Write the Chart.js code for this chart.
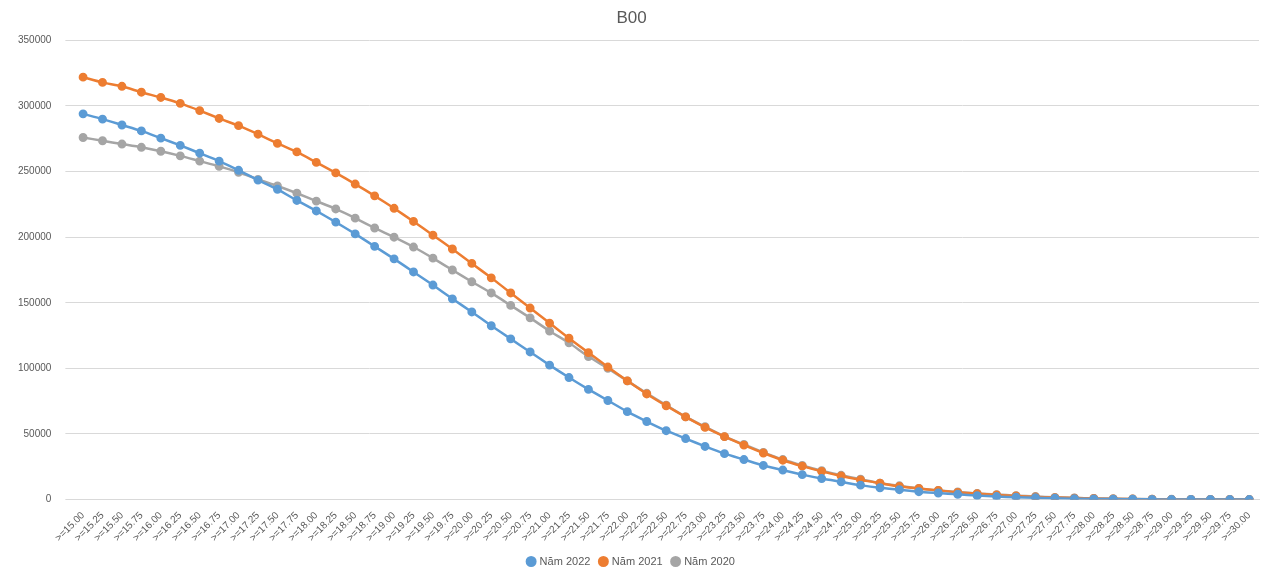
<!DOCTYPE html>
<html>
<head>
<meta charset="utf-8">
<script src="https://cdn.jsdelivr.net/npm/chart.js@4/dist/chart.umd.min.js"></script>
<style>
  html, body { margin: 0; padding: 0; background: #fff; }
  #wrap { width: 1273px; height: 583px; }
</style>
</head>
<body>
<div id="wrap"><canvas id="chart"></canvas></div>
<script>
// Score thresholds 15.00 .. 30.00
const thresholds = [];
for (let i = 0; i <= 60; i++) thresholds.push(">=" + (15 + i * 0.25).toFixed(2));

const nam2022 = [294000, 290000, 285500, 281000, 275500, 270000, 264000, 258000, 251000, 243500,
  236500, 228000, 220000, 211500, 202500, 193000, 183500, 173500, 163500, 153000,
  143000, 132500, 122500, 112500, 102500, 93000, 84000, 75500, 67000, 59500,
  52500, 46500, 40500, 35000, 30500, 26000, 22500, 19000, 16000, 13500,
  11000, 9000, 7500, 6000, 5000, 4000, 3000, 2300, 1800, 1400,
  1000, 700, 500, 350, 250, 150, 100, 60, 40, 20, 10];

const nam2021 = [322000, 318000, 315000, 310500, 306500, 302000, 296500, 290500, 285000, 278500,
  271500, 265000, 257000, 249000, 240500, 231500, 222000, 212000, 201500, 191000,
  180000, 169000, 157500, 146000, 134500, 123000, 112000, 101000, 90500, 80500,
  71500, 63000, 55000, 48000, 41500, 35500, 30000, 25500, 21500, 18000,
  15000, 12500, 10000, 8500, 7000, 5500, 4500, 3500, 2700, 2000,
  1500, 1100, 800, 550, 380, 250, 160, 100, 60, 35, 20];

const nam2020 = [276000, 273500, 271000, 268500, 265500, 262000, 258000, 254000, 249500, 244000,
  239000, 233500, 227500, 221500, 214500, 207000, 200000, 192500, 184000, 175000,
  166000, 157500, 148000, 138500, 128500, 119500, 109000, 100000, 90500, 81000,
  72000, 63000, 55500, 48000, 42000, 36000, 30500, 26000, 22000, 18500,
  15500, 12500, 10500, 8500, 7000, 5800, 4700, 3800, 3000, 2300,
  1700, 1300, 900, 650, 450, 300, 200, 130, 80, 50, 25];

function series(label, data, color) {
  return {
    label, data,
    borderColor: color, backgroundColor: color,
    borderWidth: 2.5, pointRadius: 3.2, pointHoverRadius: 4,
    tension: 0.2
  };
}

new Chart(document.getElementById("chart"), {
  type: "line",
  data: {
    labels: thresholds,
    datasets: [
      series("Năm 2022", nam2022, "#5B9BD5"),
      series("Năm 2021", nam2021, "#ED7D31"),
      series("Năm 2020", nam2020, "#A5A5A5")
    ]
  },
  options: {
    responsive: true,
    maintainAspectRatio: false,
    animation: false,
    layout: { padding: { left: 4, right: 14, top: 2, bottom: 6 } },
    plugins: {
      title: {
        display: true, text: "B00", color: "#595959",
        font: { family: "Liberation Sans", size: 17, weight: "normal" },
        padding: { top: 6, bottom: 12 }
      },
      legend: {
        position: "bottom",
        labels: {
          usePointStyle: true, pointStyle: "circle", boxWidth: 6, boxHeight: 6,
          color: "#595959", font: { family: "Liberation Sans", size: 11 }, padding: 10
        }
      },
      tooltip: { enabled: false }
    },
    scales: {
      x: {
        offset: true,
        grid: { display: false },
        border: { color: "#d9d9d9" },
        ticks: {
          autoSkip: false, maxRotation: 45, minRotation: 45, padding: 2,
          color: "#595959", font: { family: "Liberation Sans", size: 10 }
        }
      },
      y: {
        min: 0, max: 350000,
        grid: { color: "#d9d9d9" },
        border: { display: false },
        ticks: {
          stepSize: 50000, padding: 14,
          callback: v => String(v),
          color: "#595959", font: { family: "Liberation Sans", size: 10 }
        }
      }
    }
  }
});
</script>
</body>
</html>
